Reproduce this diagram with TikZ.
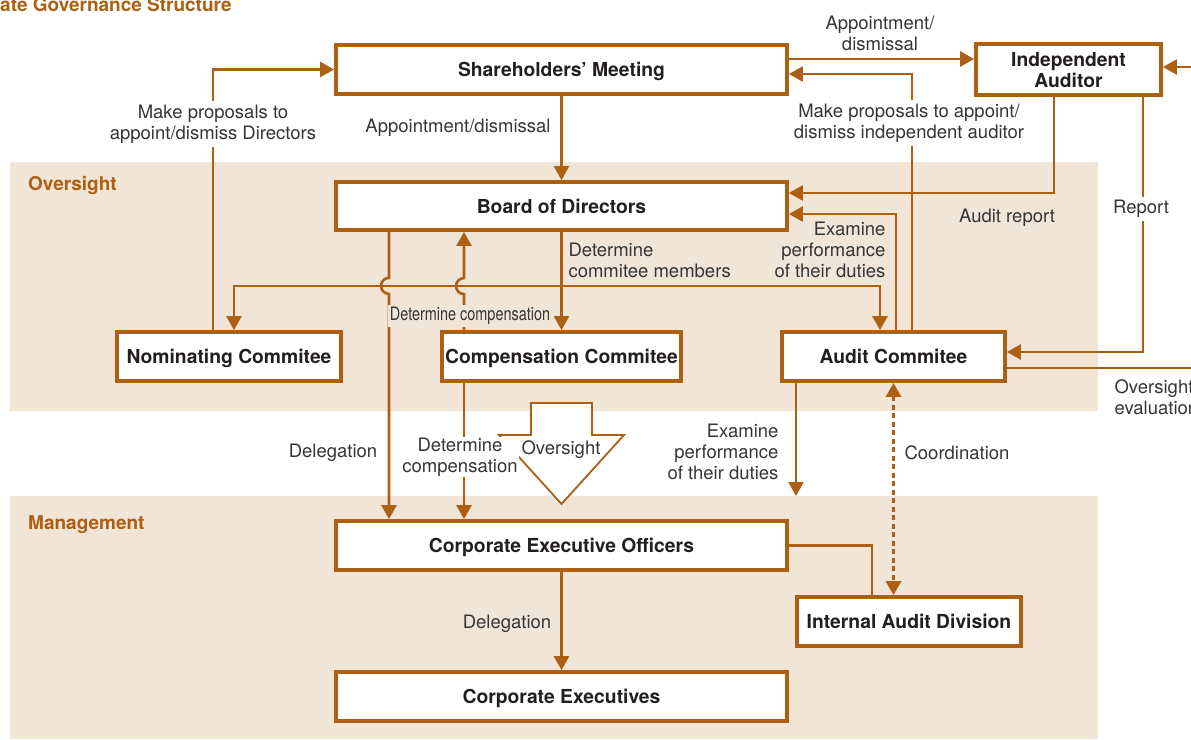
\documentclass[tikz,border=0pt]{standalone}
\definecolor{brn}{HTML}{AD5F12}
\definecolor{sand}{HTML}{F1E5D8}
\definecolor{ink}{HTML}{353535}
\definecolor{dark}{HTML}{231F20}
\usepackage{fontspec}
\setmainfont{TeX Gyre Heros}
\usetikzlibrary{arrows.meta}

\tikzset{
	box/.style={draw=brn, line width=3.8pt, fill=white, minimum height=49pt, inner sep=0pt, text depth=0pt, text=dark, align=center, font=\fontsize{19.3}{21}\selectfont\bfseries},
	link/.style={draw=brn, line width=2.6pt},
	flow/.style={link, -{Triangle[length=14pt,width=15pt]}},
	coordflow/.style={draw=brn, line width=3pt, dash pattern=on 5pt off 3.5pt, {Triangle[length=14pt,width=15pt]}-{Triangle[length=14pt,width=15pt]}},
	lbl/.style={text=ink, align=center, font=\fontsize{18.5}{21}\selectfont},
	area/.style={text=brn, font=\fontsize{19}{21}\selectfont\bfseries, anchor=west, inner sep=0pt}
}

\begin{document}
\begin{tikzpicture}[x=1pt, y=-1pt]
	\useasboundingbox (0,0) rectangle (1191,739);
	% bands
	\fill[sand] (10,162) rectangle (1098,411);
	\fill[sand] (10,496) rectangle (1098,739);
	\node[area, anchor=base west] (title) at (0,11) {ate Governance Structure};
	\node[area] (ovtag) at (28,185) {Oversight};
	\node[area] (mgtag) at (28,525) {Management};

	% boxes
	\node[box, minimum width=451pt] (share) at (561.5,69.5) {Shareholders’ Meeting};
	\node[box, minimum width=185pt, minimum height=51pt] (aud) at (1068.5,69.5) {Independent\\Auditor};
	\node[box, minimum width=451pt, minimum height=48pt] (board) at (561.5,206) {Board of Directors};
	\node[box, minimum width=224pt] (nom) at (229,356.5) {Nominating Commitee};
	\node[box, minimum width=239pt] (comp) at (561.5,356.5) {Compensation Commitee};
	\node[box, minimum width=223pt] (audc) at (893.5,356.5) {Audit Commitee};
	\node[box, minimum width=451pt] (ceo) at (561.5,545.5) {Corporate Executive Officers};
	\node[box, minimum width=224pt] (iad) at (909,621.5) {Internal Audit Division};
	\node[box, minimum width=451pt] (ce) at (561.5,696.5) {Corporate Executives};

	\coordinate (ext1) at (1191,67);
	\coordinate (ext2) at (1191,368);
	\coordinate (mid) at (561.5,286);
	\coordinate (exam) at (796,496);

	% top
	\draw[flow] ([xshift=-16pt]nom.north) |- (share.west);
	\draw[flow] (share) -- (board);
	\draw[flow] ([yshift=10.5pt]share.east) -- ([yshift=10.5pt]aud.west);
	\draw[flow] ([xshift=18.5pt]audc.north) |- ([yshift=-4.5pt]share.east);
	\draw[flow] ([xshift=-14.5pt]aud.south) |- ([yshift=13pt]board.east);
	\draw[flow] ([xshift=74.5pt]aud.south) |- ([yshift=4.5pt]audc.east);
	\draw[flow] (ext1) -- (ext1 -| aud.east);
	\draw[link] ([yshift=-11.5pt]audc.east) -- (ext2);
	\draw[flow] ([xshift=2.5pt]audc.north) |- ([yshift=-8pt]board.east);

	% committee members
	\draw[flow] (board) -- (comp);
	\draw[flow] (mid) -| ([xshift=5pt]nom.north);
	\draw[flow] (mid) -| ([xshift=-13.5pt]audc.north);

	% lines that jump
	\draw[flow] ([xshift=-172.5pt]board.south) -- ++(0,46)
		arc[start angle=90, end angle=270, radius=8pt] -- ([xshift=-172.5pt]ceo.north);
	\draw[flow] ([xshift=-97.5pt]comp.north) -- ++(0,-36)
		arc[start angle=-90, end angle=-270, radius=8pt] -- ([xshift=-97.5pt]board.south);

	% down to management
	\draw[flow] ([xshift=-97.5pt]comp.south) -- ([xshift=-97.5pt]ceo.north);
	\draw[flow] (audc.south -| exam) -- (exam);
	\draw[coordflow] (audc.south) -- (audc.south |- iad.north);
	\draw[link] (ceo.east) -| ([xshift=-37pt]iad.north);
	\draw[flow] (ceo) -- (ce);

	% big arrow
	\draw[brn, line width=1.8pt, fill=white] (531,403) -- (592,403) -- (592,435) -- (624,435)
		-- (561.5,504) -- (499,435) -- (531,435) -- cycle;
	\node[lbl] (ovs) at (561,450) {Oversight};

	% labels
	\node[lbl, fill=white] (propdir) at (213,124) {Make proposals to\\appoint/dismiss Directors};
	\node[lbl] (appdis) at (458,128) {Appointment/dismissal};
	\node[lbl] (appaud) at (880,33) {Appointment/\\dismissal};
	\node[lbl, fill=white] (propaud) at (909,123) {Make proposals to appoint/\\dismiss independent auditor};
	\node[lbl] (arep) at (1007,218) {Audit report};
	\node[lbl, fill=white] (rep) at (1141,209) {Report};
	\node[lbl, align=right, anchor=east] (exam1) at (889,250) {Examine\\performance\\of their duties};
	\node[lbl, align=left, anchor=west] (detmem) at (565,260.5) {Determine\\commitee members};
	\node[lbl, fill=sand, inner sep=2pt] (detcomp1) at (470,316) {\scalebox{0.78}[1]{Determine compensation}};
	\node[lbl, align=left, anchor=west] (oveval) at (1111,397) {Oversight\\evaluation};
	\node[lbl] (deleg1) at (333,453) {Delegation};
	\node[lbl, fill=white, inner sep=1pt] (detcomp2) at (460,457) {Determine\\compensation};
	\node[lbl, align=right, anchor=east] (exam2) at (782,452) {Examine\\performance\\of their duties};
	\node[lbl] (coord) at (957,453) {Coordination};
	\node[lbl] (deleg2) at (507,624) {Delegation};
\end{tikzpicture}
\end{document}
